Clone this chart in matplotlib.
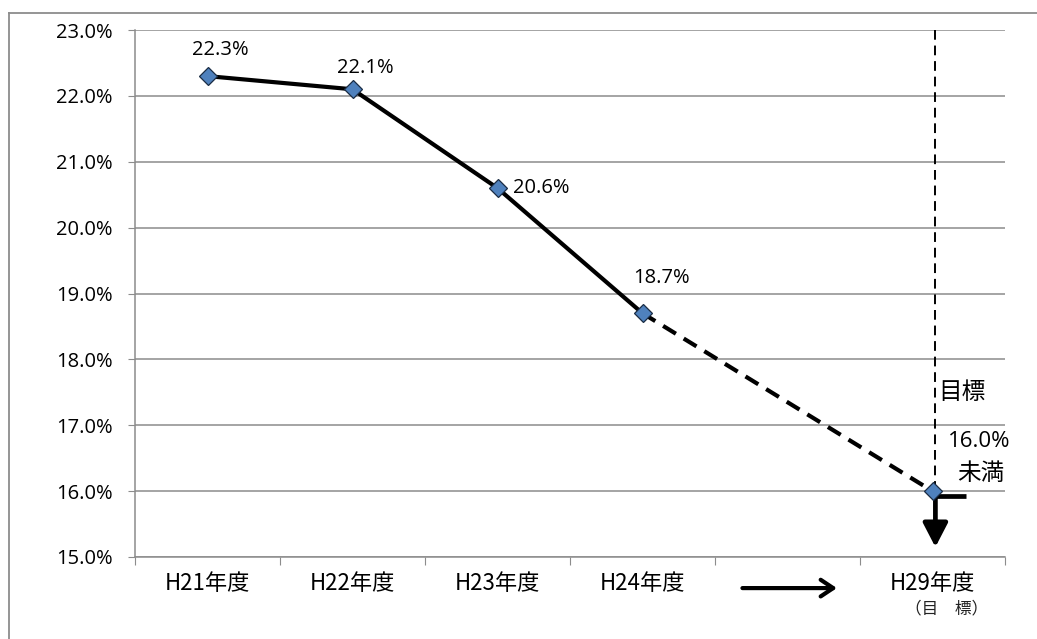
import matplotlib
matplotlib.use("Agg")
import matplotlib.pyplot as plt
from matplotlib.lines import Line2D
from matplotlib.transforms import blended_transform_factory
import numpy as np

plt.rcParams['font.family'] = ['Open Sans', 'Noto Sans CJK JP', 'DejaVu Sans']

# Data
categories = ["H21年度", "H22年度", "H23年度", "H24年度", "", "H29年度"]
actual_pos = [0, 1, 2, 3]
actual_vals = [22.3, 22.1, 20.6, 18.7]
target_pos = 5
target_val = 16.0
labels = ["22.3%", "22.1%", "20.6%", "18.7%"]

GRID = "#8c8c8c"
BLUE = "#4f81bd"
NUM_FS = 14.5

fig = plt.figure(figsize=(10.37, 6.39), dpi=100)
ax = fig.add_axes([135/1037, 82/639, 870/1037, 527/639])

ax.set_xlim(-0.5, 5.5)
ax.set_ylim(15.0, 23.0)

# y axis
yt = np.arange(15, 23.01, 1.0)
ax.set_yticks(yt)
ax.set_yticklabels([f"{v:.1f}%" for v in yt], fontsize=NUM_FS)
ax.tick_params(axis='y', length=5, color=GRID, pad=11)
ax.grid(axis='y', color=GRID, linewidth=1.1)
ax.set_axisbelow(True)

# x axis: ticks at boundaries, labels at centres
ax.set_xticks(np.arange(-0.5, 5.6, 1.0))
ax.set_xticklabels([])
ax.tick_params(axis='x', which='major', length=6, color=GRID)
ax.set_xticks(np.arange(6), minor=True)
ax.set_xticklabels(categories, minor=True, fontsize=16,
                   family=['Noto Sans CJK JP'])
ax.tick_params(axis='x', which='minor', length=0, pad=11)

for s in ['top', 'right']:
    ax.spines[s].set_visible(False)
for s in ['left', 'bottom']:
    ax.spines[s].set_color(GRID)
    ax.spines[s].set_linewidth(1.1)

trans = blended_transform_factory(ax.transData, ax.transAxes)
ax.text(5.1, -0.099, "（目　標）", transform=trans, ha='center', va='center',
        fontsize=12, family=['Noto Sans CJK JP'], color='#222222')

# arrow in the gap slot
ax.annotate("", xy=(4.36, -0.059), xytext=(3.67, -0.059),
            xycoords=trans, textcoords=trans,
            arrowprops=dict(arrowstyle="->,head_length=0.9,head_width=0.6",
                            lw=3.0, color='black'), annotation_clip=False)

# actual line
ax.plot(actual_pos, actual_vals, color='black', lw=3.0, zorder=3)
# projection to target
ax.plot([actual_pos[-1], target_pos], [actual_vals[-1], target_val],
        color='black', lw=3.0, ls=(0, (3.6, 2.2)), zorder=3)

# vertical target marker
ax.plot([target_pos + 0.02, target_pos + 0.02], [23.0, target_val],
        color='black', lw=1.4, ls=(0, (5, 3)), zorder=3)
ax.annotate("", xy=(target_pos + 0.02, 15.15), xytext=(target_pos + 0.02, target_val - 0.05),
            arrowprops=dict(arrowstyle="-|>,head_length=1.45,head_width=0.75",
                            lw=3.4, color='black', shrinkA=0, shrinkB=0), zorder=3)
ax.plot([target_pos, target_pos + 0.23], [15.93, 15.93], color='black',
        lw=3.4, solid_capstyle='butt', zorder=3)

# markers
ax.plot(actual_pos + [target_pos], actual_vals + [target_val], ls='none',
        marker='D', ms=9.5, mfc=BLUE, mec='#1a2c44', mew=0.9, zorder=4)

# value labels
ax.text(0.09, 22.69, labels[0], ha='center', va='center', fontsize=NUM_FS)
ax.text(1.09, 22.43, labels[1], ha='center', va='center', fontsize=NUM_FS)
ax.text(2.11, 20.6, labels[2], ha='left', va='center', fontsize=NUM_FS)
ax.text(3.13, 19.23, labels[3], ha='center', va='center', fontsize=NUM_FS)

ax.text(5.04, 17.49, "目標", ha='left', va='center', fontsize=17,
        family=['Noto Sans CJK JP'])
ax.text(5.32, 16.75, "16.0%", ha='center', va='center', fontsize=16)
ax.text(5.33, 16.27, "未満", ha='center', va='center', fontsize=17,
        family=['Noto Sans CJK JP'])

# outer frame
fig.add_artist(Line2D([9/1037, 1.0], [1 - 13/639] * 2, color=GRID, lw=1.3))
fig.add_artist(Line2D([9/1037] * 2, [0.0, 1 - 13/639], color=GRID, lw=1.3))

fig.savefig("out.png", dpi=100)
